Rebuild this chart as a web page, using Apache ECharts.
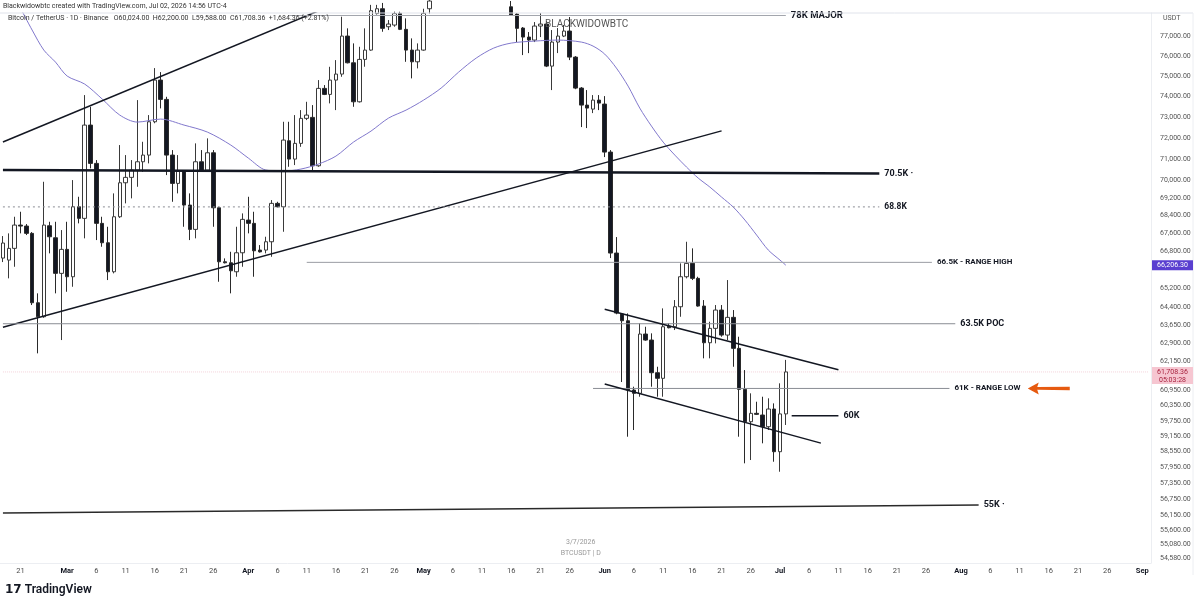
<!DOCTYPE html>
<html><head><meta charset="utf-8">
<script src="https://cdn.jsdelivr.net/npm/echarts@6/dist/echarts.min.js"></script>
<style>html,body{margin:0;padding:0;background:#fff}#c{width:1200px;height:605px}</style>
</head><body><div id="c"></div>
<script>
// ---------- DATA ----------
const firstDay = '2026-02-18';
const dayCount = 197; // Feb 18 .. Sep 2, 2026
const priceTicks = [77000,76000,75000,74000,73000,72000,71000,70000,69200,68400,67600,66800,65200,64400,63650,62900,62150,60950,60350,59750,59150,58550,57950,57350,56750,56150,55600,55080,54580];
const priceMin = 54406, priceMax = 78180;
// daily candles from Feb 18 2026: [open, close, low, high]; null = above visible range
const candles = [
[66518,67180,66343,67490],[66430,66945,65635,67610],[66945,67981,66138,68354],[67981,67936,67610,68580],
[67936,67610,67535,68026],[67610,64587,64490,67668],[64587,63994,62469,64989],[63994,67981,63950,69949],
[67950,67460,66725,68129],[67414,65851,64989,68129],[65851,66901,63019,67757],[66901,65704,65057,68129],
[65704,68806,65272,70027],[68806,68282,68057,69261],[68282,72612,67388,74062],[72612,70802,70569,73493],
[70802,68057,67312,70956],[68057,67193,67016,68354],[67193,65920,65561,67905],[65920,68354,65851,69416],
[68354,69903,68300,71662],[69903,70152,68960,71190],[70152,70490,69188,70956],[70490,70877,69719,73818],
[70877,71190,70411,71818],[71190,72771,70802,73092],[72771,74798,72700,75392],[74798,73852,73415,75194],
[73852,71190,70258,73979],[71190,69875,69033,71425],[69875,70444,69416,71190],[70444,68883,67905,70490],
[68883,67788,67312,69416],[67788,70877,67388,71742],[70877,70444,70411,71425],[70490,71298,70411,71979],
[71298,68760,67905,71425],[68760,66356,65488,68806],[66356,66312,66285,66504],[66312,65964,64989,66795],
[65920,66751,65704,67905],[66751,68237,66138,68506],[68205,68057,67610,69261],[68057,66839,65704,68580],
[66870,66790,66760,67090],[66870,67237,66725,67460],[67237,68960,66575,69110],[68960,68806,68780,69033],
[68806,71898,67682,72771],[71865,71003,70644,72771],[71003,71742,70723,73092],[71742,72934,71580,73333],
[72934,73092,72852,73736],[72982,70690,70490,73575],[70690,74390,70644,74798],[74390,74096,74062,74552],
[74096,74798,73658,75457],[74798,75095,73333,75790],[75095,77000,74962,77988],[77000,75656,75626,77393],
[75656,73736,73493,76630],[73736,75825,73700,76458],[75825,76292,75460,77393],[76292,78300,76257,78600],
[78150,78400,78100,78600],[78400,77393,77220,78700],[77476,77612,77306,77817],[77561,78150,77476,78250],
[78160,77342,77306,78244],[77342,76292,75705,77904],[76292,75705,74882,76883],[75705,76292,75377,76630],
[76292,78160,76260,78400],[78400,78800,78150,79000],
null,null,null,null,null,null,null,null,null,null,null,null,null,
[78500,78074,78030,78800],[78125,77393,76696,78177],[77408,76949,76041,77460],[76949,76797,76140,77204],
[76797,77510,76696,77714],[77510,77612,76949,78177],[77612,75491,75442,77766],[75491,76696,74307,77306],
[76696,77000,76141,77408],[77000,77255,76949,77561],[77255,75940,75790,77971],[75940,74405,74350,75990],
[74405,73575,72517,74454],[73575,73430,72469,74307],[73382,73818,73188,74062],[73818,73672,73333,74062],
[73624,71331,71097,74013],[71331,66738,66518,71425],[66738,64150,64100,67446],[64108,63826,61299,64150],
[63826,60976,59129,64136],[60976,60844,59390,61110],[60844,63269,60708,63717],[63269,63019,62990,63574],
[63019,61676,61110,63298],[61676,61449,60708,61920],[61449,63574,60708,64349],[63600,63532,63507,63717],
[63574,64418,63436,64702],[64418,65704,63994,66286],[65704,66286,65634,67237],[66286,65634,65561,66945],
[65634,64447,64420,65704],[64447,62907,62264,64702],[62907,63507,62264,63784],[63507,64277,62882,64490],
[64277,63227,63157,64490],[63227,63969,63019,65561],[63969,62675,61920,64277],[62675,61004,59129,63157],
[61004,59716,58101,61785],[59716,60047,58227,60844],[60047,60007,59980,60508],[59980,59520,58872,60708],
[59520,60218,59390,60644],[60218,58547,58162,60443],[58547,60024,57780,61246],[60024,61708.36,59588,62200]
];
// moving average
const maDates = ['2026-02-21','2026-02-23','2026-02-25','2026-02-27','2026-03-01','2026-03-04','2026-03-07','2026-03-10','2026-03-13','2026-03-17','2026-03-21','2026-03-25','2026-03-29','2026-04-01','2026-04-04','2026-04-07','2026-04-10','2026-04-13','2026-04-16','2026-04-19','2026-04-22','2026-04-25','2026-04-28','2026-05-01','2026-05-04','2026-05-07','2026-05-10','2026-05-13','2026-05-16','2026-05-20','2026-05-24','2026-05-28','2026-05-30','2026-06-01','2026-06-03','2026-06-05','2026-06-07','2026-06-09','2026-06-11','2026-06-13','2026-06-15','2026-06-17','2026-06-19','2026-06-21','2026-06-23','2026-06-25','2026-06-27','2026-06-29','2026-07-01','2026-07-02'];
const maValues = [78435,77306,76292,75690,74996,74601,73867,73092,72756,72900,72612,72278,71662,71050,70490,70444,70537,70770,71143,71803,72325,72948,73333,73818,74405,75194,75890,76393,76645,76746,76797,76696,76494,76091,75392,74503,73430,72564,71804,71190,70630,70120,69705,69247,68793,68205,67535,66870,66430,66206.30];
const maLast = 66206.30;
const lastPrice = 61708.36;
// drawn lines: [start date, start price, end date, end price]
const upperChannel = ['2026-02-18',71808,'2026-04-15',78539];
const risingSupport = ['2026-02-18',63549,'2026-06-21',72335];
const line78K = ['2026-04-08',78050,'2026-07-02',78050];
const line705K = ['2026-02-18',70490,'2026-07-18',70327];
const line688K = ['2026-02-18',68800,'2026-07-18',68800];
const line665K = ['2026-04-11',66330,'2026-07-27',66330];
const line635K = ['2026-02-18',63700,'2026-07-31',63700];
const line61K = ['2026-05-30',61040,'2026-07-30',61040];
const descUpper = ['2026-06-01',64311,'2026-07-11',61801];
const descLower = ['2026-06-01',61222,'2026-07-08',58880];
const line60K = ['2026-07-03',59950,'2026-07-11',59950];
const line55K = ['2026-02-18',56229,'2026-08-04',56526];
const arrowAt = ['2026-08-16',61040];
const monthNames = ['Jan','Feb','Mar','Apr','May','Jun','Jul','Aug','Sep','Oct','Nov','Dec'];

// ---------- BUILD ----------
const categories = [];
{
  const p = firstDay.split('-').map(Number);
  for (let k = 0; k < dayCount; k++) {
    const d = new Date(Date.UTC(p[0], p[1]-1, p[2]+k));
    categories.push(d.toISOString().slice(0,10));
  }
}
const FONT = 'Roboto, "Liberation Sans", Arial, sans-serif';
function seg(name, s, style, label) {
  const o = {
    name, type:'line', z:4, symbol:'none', silent:true, clip:true,
    data:[[s[0],s[1]],[s[2],s[3]]],
    lineStyle:Object.assign({color:'#131722', width:1.5}, style)
  };
  if (label) {
    o.endLabel = Object.assign({show:true, formatter:label.text, distance:5, color:'#131722',
      fontWeight:'bold', fontFamily:FONT, fontSize:8.5}, label.style||{});
  }
  return o;
}
function fmt(v){ return v.toLocaleString('en-US',{minimumFractionDigits:2, maximumFractionDigits:2}); }

const chart = echarts.init(document.getElementById('c'), null, {renderer:'canvas'});
const option = {
  animation:false,
  backgroundColor:'#ffffff',
  grid:{left:0, right:49, top:13, bottom:42, containLabel:false},
  xAxis:{
    type:'category', data:categories, boundaryGap:true,
    axisLine:{show:true, lineStyle:{color:'#eceef2'}},
    axisTick:{show:false}, splitLine:{show:false},
    axisLabel:{
      margin:4, fontSize:7.5, color:'#4a4a4a', fontFamily:FONT,
      interval:function(idx, val){
        const d = +val.slice(8,10), m = +val.slice(5,7);
        if (d===26 && m===2) return false;
        return [1,6,11,16,21,26].indexOf(d) >= 0;
      },
      formatter:function(val){
        const d = +val.slice(8,10), m = +val.slice(5,7);
        return d===1 ? '{m|'+monthNames[m-1]+'}' : String(d);
      },
      rich:{m:{fontWeight:'bold', color:'#131722', fontSize:7.5, fontFamily:FONT}}
    }
  },
  yAxis:{
    type:'log', logBase:10, position:'right', min:priceMin, max:priceMax, scale:true,
    axisLine:{show:true, lineStyle:{color:'#eceef2'}},
    axisTick:{show:false}, splitLine:{show:false},
    axisLabel:{customValues:priceTicks, formatter:fmt, color:'#555', fontSize:7, margin:9, fontFamily:FONT}
  },
  series:[
    {
      name:'BTCUSDT', type:'candlestick', z:2, clip:true, barWidth:4,
      data:candles.map(c => c ? c : '-'),
      itemStyle:{color:'#ffffff', color0:'#131722', borderColor:'#3a3a3a', borderColor0:'#2a2a2a', borderWidth:1}
    },
    {
      name:'MA', type:'line', z:3, symbol:'none', smooth:0.3, clip:true, silent:true,
      data:maDates.map((d,i)=>[d, maValues[i]]),
      lineStyle:{color:'#8178cc', width:1}
    },
    {
      name:'lastPriceLine', type:'line', z:1, symbol:'none', silent:true,
      data:[[categories[0], lastPrice],[categories[categories.length-1], lastPrice]],
      lineStyle:{color:'#f3d3da', width:1, type:'dotted'}
    },
    seg('upper', upperChannel, {width:1.5}),
    seg('rising', risingSupport, {width:1.5}),
    seg('78K', line78K, {color:'#a3a6ad', width:1.2}, {text:'78K MAJOR', style:{fontSize:9.5}}),
    seg('70.5K', line705K, {width:2.5}, {text:'70.5K ·', style:{fontSize:9}}),
    seg('68.8K', line688K, {color:'#8a8d94', width:1, type:[2,3]}, {text:'68.8K', style:{fontSize:8.5}}),
    seg('66.5K', line665K, {color:'#9a9da4', width:1}, {text:'66.5K - RANGE HIGH', style:{fontSize:8}}),
    seg('63.5K', line635K, {color:'#8a8d94', width:1}, {text:'63.5K POC', style:{fontSize:9}}),
    Object.assign(seg('61K', line61K, {color:'#8a8d94', width:1}, {text:'61K - RANGE LOW', style:{fontSize:8}}), {
      markPoint:{
        symbol:'path://M0,6 L11,0 L9.5,4.6 L42,4.2 L42,7.8 L9.5,7.4 L11,12 Z',
        symbolSize:[42,12], silent:true,
        itemStyle:{color:'#e65a10'}, label:{show:false},
        data:[{coord:arrowAt}]
      }
    }),
    seg('descUpper', descUpper, {width:1.5}),
    seg('descLower', descLower, {width:1.5}),
    seg('60K', line60K, {width:1.5}, {text:'60K', style:{fontSize:9}}),
    seg('55K', line55K, {color:'#2a2a2a', width:1.5}, {text:'55K ·', style:{fontSize:9}})
  ]
};
chart.setOption(option);

// axis price tags & static texts
const yMA = chart.convertToPixel({yAxisIndex:0}, maLast);
const yLast = chart.convertToPixel({yAxisIndex:0}, lastPrice);
const xMid = chart.convertToPixel({xAxisIndex:0}, '2026-06-01');
chart.setOption({graphic:[
  {type:'line', shape:{x1:0,y1:13,x2:1193,y2:13}, style:{stroke:'#e0e3eb', lineWidth:1}, z:10},
  {type:'line', shape:{x1:1193,y1:13,x2:1193,y2:575}, style:{stroke:'#eceef2', lineWidth:1}, z:10},
  {type:'text', x:3, y:3, style:{text:'Blackwidowbtc created with TradingView.com, Jul 02, 2026 14:56 UTC-4', font:'7px '+FONT, fill:'#333'}, z:10},
  {type:'text', x:8, y:15, style:{text:'Bitcoin / TetherUS · 1D · Binance   O60,024.00  H62,200.00  L59,588.00  C61,708.36  +1,684.36 (+2.81%)', font:'7px '+FONT, fill:'#333'}, z:10},
  {type:'text', x:1163, y:15, style:{text:'USDT', font:'7px '+FONT, fill:'#555'}, z:10},
  {type:'text', x:545, y:19, style:{text:'BLACKWIDOWBTC', font:'10px '+FONT, fill:'#555'}, z:10},
  {type:'text', x:xMid-24, y:539, style:{text:'3/7/2026', font:'7px '+FONT, fill:'#999', align:'center'}, z:10},
  {type:'text', x:xMid-24, y:550, style:{text:'BTCUSDT | D', font:'7px '+FONT, fill:'#999', align:'center'}, z:10},
  {type:'rect', shape:{x:1152,y:yMA-5,width:41,height:10}, style:{fill:'#5a3fd0'}, z:10},
  {type:'text', x:1172.5, y:yMA, style:{text:fmt(maLast), font:'7px '+FONT, fill:'#fff', align:'center', verticalAlign:'middle'}, z:11},
  {type:'rect', shape:{x:1152,y:yLast-5,width:41,height:17}, style:{fill:'#f6c6d1'}, z:10},
  {type:'text', x:1172.5, y:yLast, style:{text:fmt(lastPrice), font:'7px '+FONT, fill:'#a8233f', align:'center', verticalAlign:'middle'}, z:11},
  {type:'text', x:1172.5, y:yLast+8, style:{text:'05:03:28', font:'7px '+FONT, fill:'#a8233f', align:'center', verticalAlign:'middle'}, z:11},
  {type:'text', x:5, y:584, style:{text:'{a|17} {b|TradingView}', font:'12px '+FONT, fill:'#131722',
     rich:{a:{font:'bold 12px "DejaVu Sans", sans-serif', fill:'#131722'}, b:{font:'600 12px '+FONT, fill:'#131722'}}}, z:10}
]});
</script></body></html>
